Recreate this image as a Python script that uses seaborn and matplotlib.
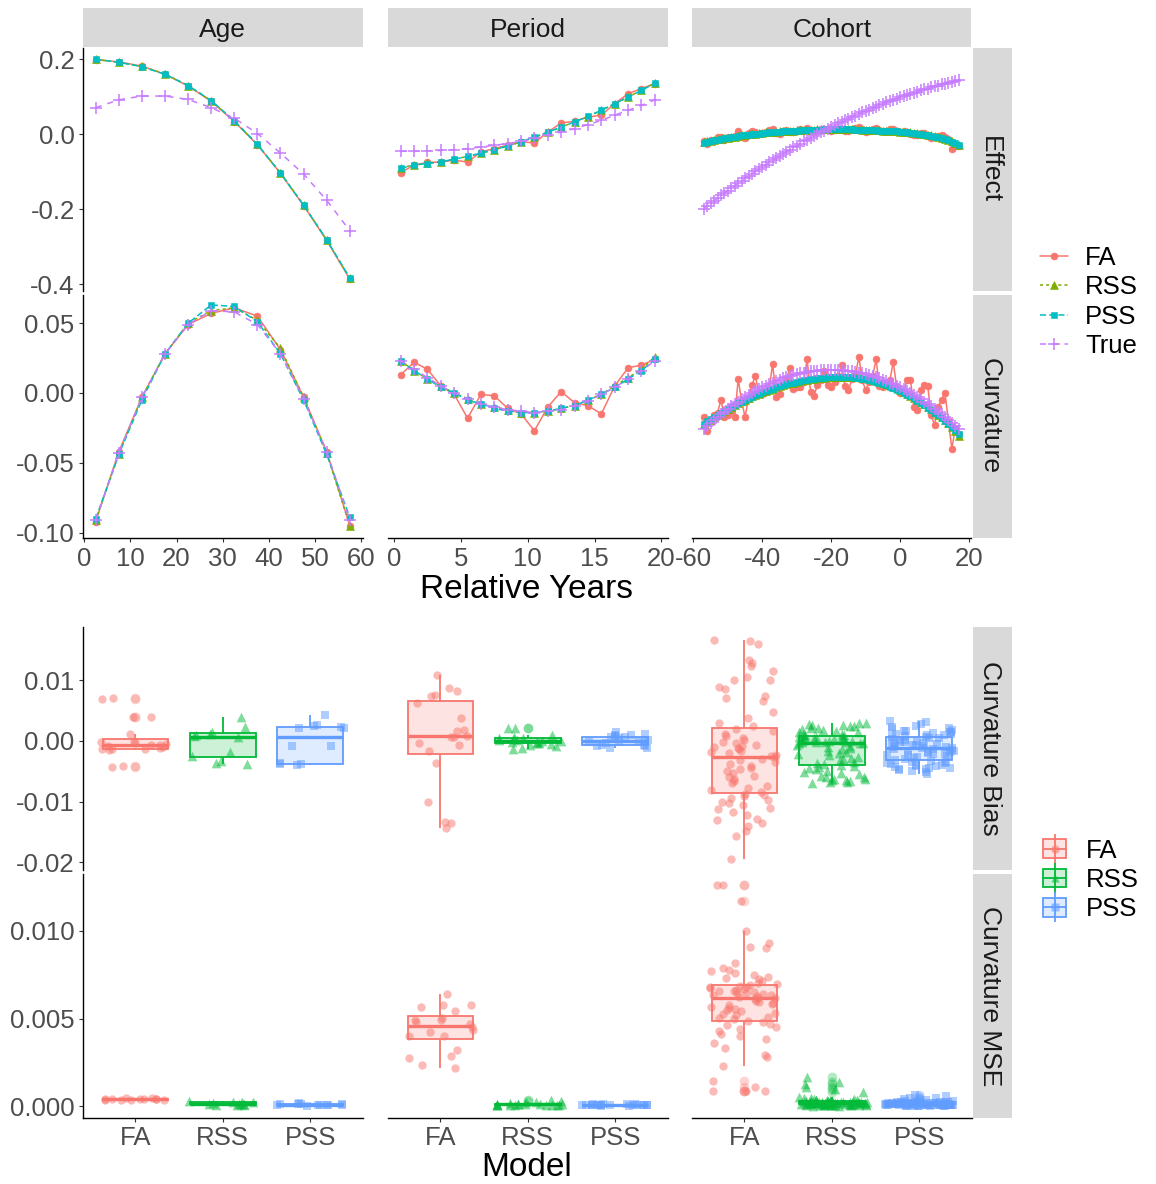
import numpy as np
import pandas as pd
import matplotlib
matplotlib.use("Agg")
import matplotlib.pyplot as plt
import seaborn as sns
from matplotlib.lines import Line2D
from matplotlib.patches import Patch
from matplotlib.colors import to_rgba
from matplotlib.legend_handler import HandlerTuple

sns.set_theme(style="white")
plt.rcParams["font.family"] = ["Liberation Sans", "DejaVu Sans"]
plt.rcParams["axes.unicode_minus"] = False

# ---------------- x positions (relative years) ----------------
age_x = [2.5, 7.5, 12.5, 17.5, 22.5, 27.5, 32.5, 37.5, 42.5, 47.5, 52.5, 57.5]
period_x = [0.5, 1.5, 2.5, 3.5, 4.5, 5.5, 6.5, 7.5, 8.5, 9.5,
            10.5, 11.5, 12.5, 13.5, 14.5, 15.5, 16.5, 17.5, 18.5, 19.5]
cohort_x = [-57, -56, -55, -54, -53, -52, -51, -50, -49, -48,
            -47, -46, -45, -44, -43, -42, -41, -40, -39, -38,
            -37, -36, -35, -34, -33, -32, -31, -30, -29, -28,
            -27, -26, -25, -24, -23, -22, -21, -20, -19, -18,
            -17, -16, -15, -14, -13, -12, -11, -10, -9, -8,
            -7, -6, -5, -4, -3, -2, -1, 0, 1, 2,
            3, 4, 5, 6, 7, 8, 9, 10, 11, 12,
            13, 14, 15, 16, 17]

# ---------------- Effect estimates ----------------
eff_age_fa = [0.199, 0.193, 0.182, 0.160, 0.129, 0.088, 0.034, -0.028, -0.104, -0.190, -0.283, -0.386]
eff_age_rss = [0.200, 0.192, 0.181, 0.161, 0.130, 0.089, 0.035, -0.027, -0.103, -0.188, -0.282, -0.384]
eff_age_pss = [0.200, 0.192, 0.180, 0.160, 0.130, 0.090, 0.036, -0.027, -0.104, -0.189, -0.281, -0.383]
eff_age_true = [0.071, 0.092, 0.102, 0.102, 0.093, 0.071, 0.043, 0.002, -0.050, -0.106, -0.176, -0.257]

eff_period_fa = [-0.102, -0.082, -0.075, -0.074, -0.069, -0.074, -0.047, -0.038, -0.029, -0.020,
                 -0.023, 0.006, 0.030, 0.035, 0.046, 0.051, 0.082, 0.108, 0.122, 0.135]
eff_period_rss = [-0.089, -0.082, -0.077, -0.073, -0.066, -0.059, -0.051, -0.041, -0.031, -0.021,
                  -0.008, 0.005, 0.019, 0.033, 0.047, 0.064, 0.081, 0.099, 0.118, 0.137]
eff_period_pss = [-0.091, -0.082, -0.078, -0.074, -0.066, -0.059, -0.050, -0.041, -0.031, -0.020,
                  -0.007, 0.006, 0.019, 0.033, 0.048, 0.064, 0.082, 0.099, 0.117, 0.136]
eff_period_true = [-0.045, -0.045, -0.044, -0.043, -0.041, -0.038, -0.034, -0.029, -0.025, -0.019,
                   -0.011, -0.003, 0.006, 0.015, 0.026, 0.037, 0.051, 0.064, 0.077, 0.092]

eff_cohort_fa = [-0.019, -0.026, -0.016, -0.019, -0.008, -0.008, -0.015, -0.008, -0.011, -0.004,
                 0.009, -0.008, -0.009, 0.003, 0.008, 0.005, 0.000, 0.004, 0.007, 0.011,
                 0.014, 0.003, 0.001, 0.010, 0.012, 0.007, 0.006, 0.009, 0.013, 0.012,
                 0.017, 0.009, 0.007, 0.010, 0.015, 0.014, 0.011, 0.009, 0.012, 0.015,
                 0.013, 0.010, 0.009, 0.014, 0.016, 0.019, 0.014, 0.007, 0.009, 0.014,
                 0.017, 0.011, 0.008, 0.008, 0.014, 0.015, 0.010, 0.006, 0.008, 0.006,
                 0.001, -0.003, -0.002, 0.003, 0.003, -0.005, -0.010, -0.006, -0.005, -0.001,
                 -0.008, -0.012, -0.039, -0.030, -0.030]
eff_cohort_rss = [-0.021, -0.019, -0.017, -0.015, -0.013, -0.012, -0.010, -0.009, -0.007, -0.006,
                  -0.004, -0.003, -0.002, -0.000, 0.001, 0.002, 0.003, 0.004, 0.005, 0.005,
                  0.006, 0.007, 0.008, 0.008, 0.009, 0.010, 0.010, 0.011, 0.011, 0.011,
                  0.012, 0.012, 0.012, 0.013, 0.013, 0.013, 0.013, 0.013, 0.014, 0.014,
                  0.014, 0.013, 0.013, 0.013, 0.013, 0.013, 0.012, 0.012, 0.012, 0.011,
                  0.011, 0.011, 0.010, 0.010, 0.009, 0.009, 0.008, 0.007, 0.007, 0.006,
                  0.005, 0.004, 0.003, 0.001, 0.000, -0.002, -0.003, -0.005, -0.007, -0.010,
                  -0.012, -0.015, -0.019, -0.023, -0.028]
eff_cohort_pss = [-0.022, -0.020, -0.018, -0.016, -0.014, -0.012, -0.011, -0.009, -0.008, -0.006,
                  -0.005, -0.003, -0.002, -0.001, 0.000, 0.001, 0.002, 0.003, 0.004, 0.005,
                  0.006, 0.007, 0.007, 0.008, 0.009, 0.009, 0.010, 0.010, 0.011, 0.011,
                  0.011, 0.012, 0.012, 0.012, 0.012, 0.013, 0.013, 0.013, 0.013, 0.013,
                  0.013, 0.013, 0.013, 0.013, 0.012, 0.012, 0.012, 0.012, 0.011, 0.011,
                  0.011, 0.010, 0.010, 0.009, 0.009, 0.008, 0.008, 0.007, 0.006, 0.005,
                  0.004, 0.003, 0.002, 0.001, -0.001, -0.002, -0.004, -0.006, -0.008, -0.010,
                  -0.013, -0.016, -0.020, -0.024, -0.029]
eff_cohort_true = [-0.198, -0.191, -0.184, -0.177, -0.170, -0.163, -0.156, -0.150, -0.143, -0.137,
                   -0.130, -0.124, -0.117, -0.111, -0.105, -0.099, -0.092, -0.086, -0.081, -0.075,
                   -0.069, -0.063, -0.057, -0.052, -0.046, -0.041, -0.035, -0.030, -0.025, -0.019,
                   -0.014, -0.009, -0.004, 0.001, 0.006, 0.010, 0.015, 0.020, 0.024, 0.029,
                   0.033, 0.038, 0.042, 0.046, 0.050, 0.055, 0.059, 0.063, 0.066, 0.070,
                   0.074, 0.078, 0.081, 0.085, 0.088, 0.092, 0.095, 0.099, 0.102, 0.105,
                   0.108, 0.111, 0.114, 0.117, 0.120, 0.122, 0.125, 0.128, 0.130, 0.133,
                   0.135, 0.137, 0.140, 0.142, 0.144]

# ---------------- Curvature estimates ----------------
curv_age_fa = [-0.092, -0.042, -0.003, 0.028, 0.049, 0.057, 0.061, 0.055, 0.031, -0.003, -0.042, -0.095]
curv_age_rss = [-0.091, -0.044, -0.003, 0.028, 0.050, 0.059, 0.061, 0.052, 0.032, -0.003, -0.043, -0.095]
curv_age_pss = [-0.090, -0.044, -0.005, 0.028, 0.050, 0.063, 0.062, 0.051, 0.028, -0.005, -0.044, -0.089]
curv_age_true = [-0.091, -0.043, -0.003, 0.028, 0.049, 0.059, 0.058, 0.049, 0.028, -0.004, -0.042, -0.091]

curv_period_fa = [0.013, 0.022, 0.017, 0.005, -0.001, -0.018, -0.001, -0.002, -0.011, -0.015,
                  -0.027, -0.010, 0.001, -0.007, -0.009, -0.015, 0.005, 0.018, 0.020, 0.024]
curv_period_rss = [0.023, 0.016, 0.010, 0.005, 0.000, -0.004, -0.008, -0.010, -0.012, -0.014,
                   -0.014, -0.013, -0.011, -0.009, -0.005, -0.001, 0.005, 0.011, 0.017, 0.026]
curv_period_pss = [0.023, 0.016, 0.010, 0.004, -0.000, -0.005, -0.008, -0.011, -0.013, -0.014,
                   -0.014, -0.013, -0.011, -0.009, -0.005, -0.001, 0.004, 0.010, 0.016, 0.024]
curv_period_true = [0.023, 0.017, 0.011, 0.005, 0.000, -0.004, -0.008, -0.010, -0.012, -0.013,
                    -0.014, -0.013, -0.012, -0.009, -0.006, -0.001, 0.004, 0.010, 0.016, 0.023]

curv_cohort_fa = [-0.017, -0.027, -0.019, -0.016, -0.014, -0.005, -0.017, -0.016, -0.013, -0.017,
                  0.010, -0.006, -0.017, -0.004, 0.006, 0.012, 0.000, -0.001, 0.001, 0.003,
                  0.021, -0.003, -0.001, 0.006, 0.010, 0.018, 0.003, 0.004, 0.004, 0.008,
                  0.024, 0.001, -0.002, 0.006, 0.009, 0.016, 0.006, 0.004, 0.008, 0.012,
                  0.020, 0.005, 0.002, 0.010, 0.012, 0.026, 0.009, 0.002, 0.008, 0.012,
                  0.024, 0.005, 0.004, 0.006, 0.009, 0.022, 0.004, 0.000, 0.001, 0.009,
                  0.009, -0.010, -0.012, 0.002, 0.006, 0.005, -0.016, -0.023, -0.010, -0.005,
                  0.000, -0.020, -0.040, -0.025, -0.029]
curv_cohort_rss = [-0.0225, -0.0207, -0.0190, -0.0173, -0.0157, -0.0142, -0.0127, -0.0112, -0.0098, -0.0085,
                   -0.0072, -0.0059, -0.0047, -0.0035, -0.0024, -0.0014, -0.0004, 0.0006, 0.0015, 0.0024,
                   0.0032, 0.0040, 0.0048, 0.0055, 0.0062, 0.0068, 0.0074, 0.0080, 0.0085, 0.0090,
                   0.0094, 0.0098, 0.0101, 0.0104, 0.0107, 0.0109, 0.0111, 0.0113, 0.0114, 0.0115,
                   0.0116, 0.0116, 0.0116, 0.0115, 0.0113, 0.0111, 0.0108, 0.0104, 0.0099, 0.0093,
                   0.0087, 0.0080, 0.0072, 0.0063, 0.0054, 0.0044, 0.0033, 0.0021, 0.0009, -0.0004,
                   -0.0018, -0.0033, -0.0048, -0.0064, -0.0081, -0.0098, -0.0116, -0.0135, -0.0155, -0.0175,
                   -0.0196, -0.0218, -0.0241, -0.0275, -0.0310]
curv_cohort_pss = [-0.0220, -0.0203, -0.0187, -0.0171, -0.0156, -0.0141, -0.0127, -0.0113, -0.0099, -0.0086,
                   -0.0073, -0.0061, -0.0049, -0.0037, -0.0026, -0.0016, -0.0005, 0.0004, 0.0014, 0.0023,
                   0.0031, 0.0040, 0.0047, 0.0055, 0.0061, 0.0068, 0.0074, 0.0080, 0.0085, 0.0090,
                   0.0094, 0.0098, 0.0102, 0.0105, 0.0107, 0.0110, 0.0112, 0.0113, 0.0114, 0.0115,
                   0.0115, 0.0115, 0.0114, 0.0112, 0.0109, 0.0106, 0.0102, 0.0098, 0.0093, 0.0087,
                   0.0080, 0.0073, 0.0065, 0.0056, 0.0046, 0.0036, 0.0025, 0.0014, 0.0002, -0.0011,
                   -0.0025, -0.0039, -0.0054, -0.0070, -0.0087, -0.0104, -0.0122, -0.0140, -0.0159, -0.0179,
                   -0.0200, -0.0221, -0.0243, -0.0266, -0.0290]
curv_cohort_true = [-0.0260, -0.0237, -0.0215, -0.0194, -0.0173, -0.0153, -0.0133, -0.0114, -0.0096, -0.0078,
                    -0.0061, -0.0045, -0.0029, -0.0014, 0.0001, 0.0015, 0.0028, 0.0041, 0.0053, 0.0064,
                    0.0075, 0.0086, 0.0095, 0.0104, 0.0113, 0.0120, 0.0127, 0.0134, 0.0140, 0.0145,
                    0.0150, 0.0154, 0.0157, 0.0160, 0.0162, 0.0164, 0.0165, 0.0165, 0.0165, 0.0164,
                    0.0162, 0.0160, 0.0157, 0.0154, 0.0150, 0.0145, 0.0140, 0.0134, 0.0127, 0.0120,
                    0.0113, 0.0104, 0.0095, 0.0086, 0.0075, 0.0064, 0.0053, 0.0041, 0.0028, 0.0015,
                    0.0001, -0.0014, -0.0029, -0.0045, -0.0061, -0.0078, -0.0096, -0.0114, -0.0133, -0.0153,
                    -0.0173, -0.0194, -0.0215, -0.0237, -0.0260]

# ---------------- Curvature bias by model ----------------
bias_age_fa = [0.0070, 0.0069, 0.0040, 0.0039, 0.0011, 0.0000, -0.0001, -0.0003, -0.0005, -0.0007,
               -0.0007, -0.0008, -0.0010, -0.0012, -0.0013, -0.0014, -0.0014, -0.0015, -0.0042, -0.0043]
bias_age_rss = [0.0039, 0.0023, 0.0014, 0.0012, 0.0009, 0.0008, 0.0006, -0.0019, -0.0025, -0.0033,
                -0.0036, -0.0038]
bias_age_pss = [0.0043, 0.0026, 0.0025, 0.0023, 0.0022, 0.0021, -0.0008, -0.0009, -0.0037, -0.0038,
                -0.0038, -0.0039]

bias_period_fa = [0.0108, 0.0088, 0.0082, 0.0076, 0.0074, 0.0063, 0.0037, 0.0018, 0.0016, 0.0008,
                  0.0007, 0.0006, -0.0004, -0.0007, -0.0016, -0.0036, -0.0100, -0.0134, -0.0136, -0.0143]
bias_period_rss = [0.0022, 0.0021, 0.0010, 0.0007, 0.0005, 0.0004, 0.0003, 0.0002, 0.0001, 0.0000,
                   0.0000, -0.0001, -0.0002, -0.0003, -0.0004, -0.0005, -0.0006, -0.0008, -0.0012, -0.0013]
bias_period_pss = [0.0015, 0.0012, 0.0010, 0.0009, 0.0008, 0.0007, 0.0006, 0.0004, 0.0002, 0.0001,
                   0.0000, -0.0001, -0.0002, -0.0004, -0.0006, -0.0007, -0.0008, -0.0009, -0.0011, -0.0012]

bias_cohort_fa = [0.0167, 0.0165, 0.0160, 0.0134, 0.0128, 0.0123, 0.0116, 0.0106, 0.0101, 0.0100,
                  0.0089, 0.0085, 0.0074, 0.0070, 0.0065, 0.0047, 0.0038, 0.0030, 0.0024,
                  0.0020, 0.0017, 0.0012, 0.0008, 0.0005, 0.0002, -0.0001, -0.0004, -0.0006, -0.0008,
                  -0.0010, -0.0012, -0.0014, -0.0016, -0.0018, -0.0020, -0.0023, -0.0025,
                  -0.0027, -0.0029, -0.0032, -0.0035, -0.0038, -0.0041, -0.0044, -0.0047, -0.0050, -0.0053,
                  -0.0057, -0.0060, -0.0063, -0.0066, -0.0070, -0.0074, -0.0078, -0.0081, -0.0084,
                  -0.0087, -0.0089, -0.0091, -0.0094, -0.0097, -0.0100, -0.0103, -0.0106, -0.0110, -0.0113,
                  -0.0117, -0.0122, -0.0128, -0.0131, -0.0135, -0.0140, -0.0148, -0.0157, -0.0194]
bias_cohort_rss = [0.0030, 0.0029, 0.0028, 0.0027, 0.0026, 0.0025, 0.0024, 0.0022, 0.0021, 0.0019,
                   0.0018, 0.0016, 0.0015, 0.0014, 0.0012, 0.0011, 0.0010, 0.0009, 0.0008,
                   0.0007, 0.0006, 0.0006, 0.0005, 0.0004, 0.0004, 0.0003, 0.0002, 0.0002, 0.0001,
                   0.0000, 0.0000, -0.0001, -0.0001, -0.0002, -0.0002, -0.0003, -0.0003,
                   -0.0004, -0.0006, -0.0008, -0.0010, -0.0012, -0.0014, -0.0016, -0.0018, -0.0020, -0.0022,
                   -0.0024, -0.0026, -0.0028, -0.0030, -0.0032, -0.0034, -0.0036, -0.0038, -0.0039,
                   -0.0041, -0.0043, -0.0045, -0.0047, -0.0049, -0.0051, -0.0053, -0.0055, -0.0057, -0.0059,
                   -0.0060, -0.0062, -0.0063, -0.0064, -0.0065, -0.0066, -0.0067, -0.0068, -0.0070]
bias_cohort_pss = [0.0033, 0.0031, 0.0028, 0.0025, 0.0023, 0.0021, 0.0020, 0.0018, 0.0017, 0.0016,
                   0.0015, 0.0014, 0.0013, 0.0012, 0.0011, 0.0010, 0.0009, 0.0008, 0.0007,
                   0.0006, 0.0005, 0.0004, 0.0003, 0.0002, 0.0001, 0.0000, -0.0001, -0.0002, -0.0003,
                   -0.0004, -0.0005, -0.0006, -0.0007, -0.0008, -0.0009, -0.0010, -0.0010,
                   -0.0011, -0.0012, -0.0013, -0.0014, -0.0015, -0.0016, -0.0017, -0.0018, -0.0019, -0.0020,
                   -0.0021, -0.0022, -0.0023, -0.0024, -0.0025, -0.0027, -0.0028, -0.0030, -0.0031,
                   -0.0033, -0.0034, -0.0035, -0.0036, -0.0037, -0.0038, -0.0039, -0.0040, -0.0041, -0.0042,
                   -0.0043, -0.0044, -0.0045, -0.0046, -0.0047, -0.0048, -0.0050, -0.0052, -0.0054]

# ---------------- Curvature MSE by model ----------------
mse_age_fa = [0.00040, 0.00036, 0.00042, 0.00038, 0.00044, 0.00041, 0.00039, 0.00045, 0.00043, 0.00037,
              0.00046, 0.00035]
mse_age_rss = [0.00030, 0.00026, 0.00012, 0.00008, 0.00015, 0.00024, 0.00010, 0.00018, 0.00006, 0.00014,
               0.00022, 0.00011]
mse_age_pss = [0.00008, 0.00012, 0.00015, 0.00005, 0.00010, 0.00018, 0.00007, 0.00011, 0.00004, 0.00013,
               0.00009, 0.00006]

mse_period_fa = [0.00642, 0.00576, 0.00575, 0.00566, 0.00544, 0.00504, 0.00494, 0.00490, 0.00479, 0.00470,
                 0.00450, 0.00438, 0.00422, 0.00403, 0.00403, 0.00320, 0.00286, 0.00273, 0.00233, 0.00216]
mse_period_rss = [0.00010, 0.00008, 0.00012, 0.00006, 0.00015, 0.00030, 0.00009, 0.00011, 0.00022, 0.00007,
                  0.00013, 0.00010, 0.00025, 0.00008, 0.00014, 0.00005, 0.00012, 0.00018, 0.00009, 0.00035]
mse_period_pss = [0.00006, 0.00008, 0.00004, 0.00010, 0.00007, 0.00012, 0.00005, 0.00009, 0.00006, 0.00015,
                  0.00008, 0.00003, 0.00011, 0.00007, 0.00009, 0.00005, 0.00013, 0.00006, 0.00010, 0.00008]

mse_cohort_fa = [0.01265, 0.01262, 0.01171, 0.00998, 0.00930, 0.00911, 0.00905, 0.00820, 0.00790, 0.00778,
                 0.00770, 0.00760, 0.00750, 0.00740, 0.00734, 0.00725, 0.00715, 0.00705, 0.00698,
                 0.00690, 0.00686, 0.00682, 0.00678, 0.00673, 0.00669, 0.00665, 0.00660, 0.00656, 0.00652,
                 0.00648, 0.00644, 0.00640, 0.00636, 0.00632, 0.00628, 0.00624, 0.00620,
                 0.00618, 0.00610, 0.00603, 0.00596, 0.00590, 0.00583, 0.00576, 0.00569, 0.00562, 0.00555,
                 0.00548, 0.00541, 0.00534, 0.00527, 0.00520, 0.00512, 0.00504, 0.00496, 0.00488,
                 0.00480, 0.00470, 0.00462, 0.00450, 0.00440, 0.00430, 0.00415, 0.00400, 0.00385, 0.00360,
                 0.00330, 0.00292, 0.00280, 0.00229, 0.00147, 0.00111, 0.00087, 0.00087, 0.00087]
mse_cohort_rss = [0.00168, 0.00140, 0.00128, 0.00110, 0.00100, 0.00082,
                  0.00055, 0.00050, 0.00046, 0.00043, 0.00040, 0.00038, 0.00036, 0.00035, 0.00034, 0.00033,
                  0.00032, 0.00031, 0.00030, 0.00030, 0.00029, 0.00028, 0.00028, 0.00027, 0.00027, 0.00026,
                  0.00026, 0.00025, 0.00025, 0.00025, 0.00024, 0.00024, 0.00023, 0.00023, 0.00022, 0.00022,
                  0.00022, 0.00021, 0.00021, 0.00020, 0.00020, 0.00020, 0.00019, 0.00019, 0.00018, 0.00018,
                  0.00018, 0.00017, 0.00017, 0.00016, 0.00016, 0.00015, 0.00015, 0.00014, 0.00014, 0.00013,
                  0.00013, 0.00012, 0.00012, 0.00011, 0.00011, 0.00010, 0.00010, 0.00009, 0.00009, 0.00008,
                  0.00008, 0.00007, 0.00007, 0.00006, 0.00006, 0.00005, 0.00005, 0.00004, 0.00003]
mse_cohort_pss = [0.00062, 0.00058, 0.00050, 0.00045, 0.00040, 0.00036, 0.00033, 0.00030, 0.00028, 0.00026,
                  0.00025, 0.00024, 0.00023, 0.00022, 0.00021, 0.00020, 0.00020, 0.00019, 0.00018, 0.00018,
                  0.00017, 0.00017, 0.00016, 0.00016, 0.00015, 0.00015, 0.00014, 0.00014, 0.00013, 0.00013,
                  0.00012, 0.00012, 0.00012, 0.00011, 0.00011, 0.00011, 0.00010, 0.00010, 0.00010, 0.00009,
                  0.00009, 0.00009, 0.00008, 0.00008, 0.00008, 0.00007, 0.00007, 0.00007, 0.00006, 0.00006,
                  0.00006, 0.00005, 0.00005, 0.00005, 0.00004, 0.00004, 0.00004, 0.00003, 0.00003, 0.00003,
                  0.00002, 0.00002, 0.00015, 0.00012, 0.00010, 0.00018, 0.00020, 0.00008, 0.00011, 0.00013,
                  0.00016, 0.00009, 0.00007, 0.00014, 0.00019]

# ---------------- labels and styling ----------------
effect_names = ["Age", "Period", "Cohort"]
top_rows = ["Effect", "Curvature"]
bottom_rows = ["Curvature Bias", "Curvature MSE"]
series_names = ["FA", "RSS", "PSS", "True"]
models = ["FA", "RSS", "PSS"]

line_colors = {"FA": "#F8766D", "RSS": "#7CAE00", "PSS": "#00BFC4", "True": "#C77CFF"}
line_markers = {"FA": "o", "RSS": "^", "PSS": "s", "True": "+"}
line_msize = {"FA": 5.0, "RSS": 5.5, "PSS": 5.0, "True": 8.0}
line_styles = {"FA": "-", "RSS": (0, (2, 2)), "PSS": (0, (4, 2)), "True": (0, (4, 4))}
box_colors = {"FA": "#F8766D", "RSS": "#00BA38", "PSS": "#619CFF"}
box_markers = {"FA": "o", "RSS": "^", "PSS": "s"}
box_msize = {"FA": 6.0, "RSS": 7.0, "PSS": 6.0}

x_values = {"Age": age_x, "Period": period_x, "Cohort": cohort_x}
top_data = {
    ("Effect", "Age"): [eff_age_fa, eff_age_rss, eff_age_pss, eff_age_true],
    ("Effect", "Period"): [eff_period_fa, eff_period_rss, eff_period_pss, eff_period_true],
    ("Effect", "Cohort"): [eff_cohort_fa, eff_cohort_rss, eff_cohort_pss, eff_cohort_true],
    ("Curvature", "Age"): [curv_age_fa, curv_age_rss, curv_age_pss, curv_age_true],
    ("Curvature", "Period"): [curv_period_fa, curv_period_rss, curv_period_pss, curv_period_true],
    ("Curvature", "Cohort"): [curv_cohort_fa, curv_cohort_rss, curv_cohort_pss, curv_cohort_true],
}
bottom_data = {
    ("Curvature Bias", "Age"): [bias_age_fa, bias_age_rss, bias_age_pss],
    ("Curvature Bias", "Period"): [bias_period_fa, bias_period_rss, bias_period_pss],
    ("Curvature Bias", "Cohort"): [bias_cohort_fa, bias_cohort_rss, bias_cohort_pss],
    ("Curvature MSE", "Age"): [mse_age_fa, mse_age_rss, mse_age_pss],
    ("Curvature MSE", "Period"): [mse_period_fa, mse_period_rss, mse_period_pss],
    ("Curvature MSE", "Cohort"): [mse_cohort_fa, mse_cohort_rss, mse_cohort_pss],
}

x_limits = {"Age": (-0.25, 60.25), "Period": (-0.45, 20.45), "Cohort": (-60.4, 20.7)}
x_ticks = {"Age": [0, 10, 20, 30, 40, 50, 60], "Period": [0, 5, 10, 15, 20],
           "Cohort": [-60, -40, -20, 0, 20]}
y_limits = {"Effect": (-0.4178, 0.2301), "Curvature": (-0.1040, 0.0705),
            "Curvature Bias": (-0.02127, 0.01877), "Curvature MSE": (-0.00065, 0.01325)}
y_ticks = {"Effect": ([-0.4, -0.2, 0.0, 0.2], ["-0.4", "-0.2", "0.0", "0.2"]),
           "Curvature": ([-0.10, -0.05, 0.0, 0.05], ["-0.10", "-0.05", "0.00", "0.05"]),
           "Curvature Bias": ([-0.02, -0.01, 0.0, 0.01], ["-0.02", "-0.01", "0.00", "0.01"]),
           "Curvature MSE": ([0.0, 0.005, 0.010], ["0.000", "0.005", "0.010"])}

# ---------------- layout (pixels) ----------------
W, H = 1156, 1184
fig = plt.figure(figsize=(W / 100, H / 100), dpi=100)
fig.patch.set_facecolor("white")


def px_box(x0, y0, x1, y1):
    return [x0 / W, 1 - y1 / H, (x1 - x0) / W, (y1 - y0) / H]


col_px = [(83, 362.5), (388, 667.5), (692, 971.5)]
top_row_px = [(48, 291), (294.5, 538.3)]
bottom_row_px = [(627, 870), (874, 1117.7)]
strip_top_px = (7.5, 47)
strip_right_px = (972.5, 1012)

TICK_SIZE = 18.5
STRIP_SIZE = 19


def style_panel(ax, show_left, show_bottom):
    ax.set_facecolor("white")
    ax.grid(False)
    for side, spine in ax.spines.items():
        spine.set_visible(False)
    for side, flag in (("left", show_left), ("bottom", show_bottom)):
        if flag:
            ax.spines[side].set_visible(True)
            ax.spines[side].set_color("black")
            ax.spines[side].set_linewidth(1.0)
    ax.tick_params(axis="y", left=show_left, labelleft=show_left, length=3, width=0.8,
                   color="#333333", labelcolor="#4D4D4D", labelsize=TICK_SIZE, pad=3)
    ax.tick_params(axis="x", bottom=show_bottom, labelbottom=show_bottom, length=3, width=0.8,
                   color="#333333", labelcolor="#4D4D4D", labelsize=TICK_SIZE, pad=3)
    ax.set_xlabel("")
    ax.set_ylabel("")


def add_strip(box, text, rotation=0):
    sax = fig.add_axes(box)
    sax.set_facecolor("#D9D9D9")
    for spine in sax.spines.values():
        spine.set_visible(False)
    sax.set_xticks([])
    sax.set_yticks([])
    sax.text(0.5, 0.5, text, ha="center", va="center_baseline", rotation=rotation,
             rotation_mode="anchor", fontsize=STRIP_SIZE, color="#1A1A1A",
             transform=sax.transAxes)


# ---------------- top grid: estimated vs true curves ----------------
for j, eff in enumerate(effect_names):
    x0, x1 = col_px[j]
    add_strip(px_box(x0, strip_top_px[0], x1, strip_top_px[1]), eff)
    for i, row in enumerate(top_rows):
        y0, y1 = top_row_px[i]
        ax = fig.add_axes(px_box(x0, y0, x1, y1))
        for name, vals in zip(series_names, top_data[(row, eff)]):
            d = pd.DataFrame({"x": x_values[eff], "y": vals})
            c = line_colors[name]
            sns.lineplot(data=d, x="x", y="y", ax=ax, color=c, linewidth=1.1,
                         linestyle=line_styles[name], marker=line_markers[name],
                         markersize=line_msize[name], markeredgecolor=c,
                         markeredgewidth=1.1 if name == "True" else 0.4,
                         errorbar=None, sort=False, legend=False)
        ax.set_xlim(*x_limits[eff])
        ax.set_ylim(*y_limits[row])
        ax.set_xticks(x_ticks[eff], labels=[str(t) for t in x_ticks[eff]])
        ax.set_yticks(y_ticks[row][0], labels=y_ticks[row][1])
        style_panel(ax, show_left=(j == 0), show_bottom=(i == 1))

for i, row in enumerate(top_rows):
    y0, y1 = top_row_px[i]
    add_strip(px_box(strip_right_px[0], y0, strip_right_px[1], y1), row, rotation=-90)

fig.text(527 / W, 1 - 590 / H, "Relative Years", ha="center", va="center",
         fontsize=24, color="black")

# ---------------- bottom grid: bias and MSE by model ----------------
np.random.seed(11)
for j, eff in enumerate(effect_names):
    x0, x1 = col_px[j]
    for i, row in enumerate(bottom_rows):
        y0, y1 = bottom_row_px[i]
        ax = fig.add_axes(px_box(x0, y0, x1, y1))
        groups = bottom_data[(row, eff)]
        for m, vals in zip(models, groups):
            c = box_colors[m]
            d = pd.DataFrame({"Model": [m] * len(vals), "value": vals})
            n_before = len(ax.patches)
            sns.boxplot(data=d, x="Model", y="value", order=models, ax=ax,
                        color=c, linecolor=c, saturation=1, width=0.75, linewidth=1.3,
                        fill=True, showfliers=True,
                        boxprops={"facecolor": to_rgba(c, 0.2)},
                        medianprops={"linewidth": 2.4},
                        capprops={"linewidth": 0},
                        flierprops={"marker": "o", "markersize": 7,
                                    "markerfacecolor": to_rgba(c, 0.3),
                                    "markeredgecolor": "none"})
            for p in ax.patches[n_before:]:
                p.set_facecolor(to_rgba(c, 0.2))
                p.set_edgecolor(c)
        for m, vals in zip(models, groups):
            c = box_colors[m]
            d = pd.DataFrame({"Model": [m] * len(vals), "value": vals})
            sns.stripplot(data=d, x="Model", y="value", order=models, ax=ax,
                          color=c, marker=box_markers[m], size=box_msize[m],
                          alpha=0.5, jitter=0.4, linewidth=0, zorder=4)
        ax.set_xlim(-0.6, 2.6)
        ax.set_ylim(*y_limits[row])
        ax.set_xticks([0, 1, 2], labels=models)
        ax.set_yticks(y_ticks[row][0], labels=y_ticks[row][1])
        style_panel(ax, show_left=(j == 0), show_bottom=(i == 1))

for i, row in enumerate(bottom_rows):
    y0, y1 = bottom_row_px[i]
    add_strip(px_box(strip_right_px[0], y0, strip_right_px[1], y1), row, rotation=-90)

fig.text(527 / W, 1 - 1168 / H, "Model", ha="center", va="center",
         fontsize=24, color="black")

# ---------------- legends ----------------
line_handles = [Line2D([], [], color=line_colors[n], linewidth=1.1, linestyle=line_styles[n],
                       marker=line_markers[n], markersize=line_msize[n],
                       markeredgecolor=line_colors[n],
                       markeredgewidth=1.1 if n == "True" else 0.4)
                for n in series_names]
fig.legend(line_handles, series_names, loc="center left",
           bbox_to_anchor=(1040 / W, 1 - 302 / H), frameon=False, fontsize=TICK_SIZE,
           labelcolor="black", handlelength=1.1, handletextpad=0.65, labelspacing=0.2,
           borderpad=0, borderaxespad=0)

box_handles = []
for m in models:
    c = box_colors[m]
    whisker = Line2D([], [], color=c, linestyle="None", marker="|", markersize=22,
                     markeredgewidth=1.3)
    body = Patch(facecolor=to_rgba(c, 0.2), edgecolor=c, linewidth=1.3)
    mid = Line2D([], [], color=c, linewidth=1.3, marker=box_markers[m], markersize=6,
                 markerfacecolor=to_rgba(c, 0.6), markeredgecolor="none")
    box_handles.append((whisker, body, mid))
fig.legend(box_handles, models, loc="center left",
           bbox_to_anchor=(1043 / W, 1 - 880 / H), frameon=False, fontsize=TICK_SIZE,
           labelcolor="black", handlelength=0.9, handleheight=0.75, handletextpad=0.75,
           labelspacing=0.2, borderpad=0, borderaxespad=0,
           handler_map={tuple: HandlerTuple(ndivide=1, pad=0)})

fig.savefig("out.png", dpi=100, facecolor="white")
